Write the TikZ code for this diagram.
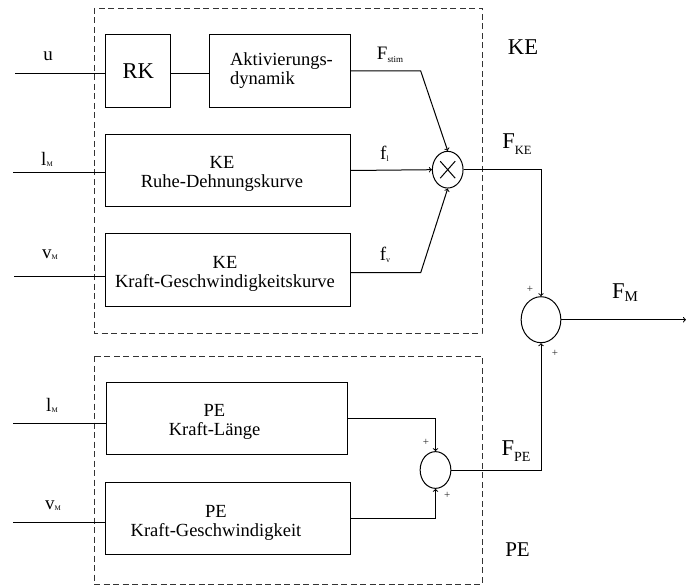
\documentclass[tikz,border=0pt]{standalone}
\usepackage{fontspec}
\setmainfont{Liberation Serif}
\usetikzlibrary{shapes.geometric}
\newcommand{\fsz}[1]{\fontsize{#1}{#1}\selectfont}
% symbol with a small lowered index: \sym{main size}{main}{drop}{index size}{index}
\newcommand{\sym}[5]{{\fsz{#1}#2}\raisebox{-#3pt}{\fsz{#4}#5}}

\begin{document}
\begin{tikzpicture}[x=1pt,y=-1pt,
  blk/.style={draw, line width=1pt, inner sep=0pt, rectangle},
  group/.style={draw=black!80, dash pattern=on 6pt off 3.5pt, line width=0.9pt},
  wire/.style={line width=1pt},
  arr/.style={wire, ->},
  junction/.style={draw, ellipse, line width=1pt, inner sep=0pt},
  sig/.style={anchor=base, inner sep=0pt},
  boxtext/.style={inner sep=0pt, font=\fsz{18.5}, execute at begin node=\setlength{\baselineskip}{19pt}},
  sign/.style={inner sep=0pt, font=\fsz{11}, text=black!85}
]
\useasboundingbox (0,0) rectangle (687,585);

% dashed group frames
\draw[group] (94,8) rectangle (482,333);
\draw[group] (94,356) rectangle (482,584);

% blocks
\node[blk, minimum width=64.7pt, minimum height=73pt, font=\fsz{22.6}] (rk) at (138.3,70.8) {RK};
\node[blk, minimum width=140.7pt, minimum height=73pt] (akt) at (280.3,70.7) {};
\node[blk, minimum width=244.7pt, minimum height=72.4pt] (ruhe) at (228.3,170.5) {};
\node[blk, minimum width=244.7pt, minimum height=72.7pt] (kgk) at (228.3,269.7) {};
\node[blk, minimum width=241.3pt, minimum height=72.3pt] (pekl) at (226.7,418.8) {};
\node[blk, minimum width=244.7pt, minimum height=72.3pt] (pekg) at (228.3,518.2) {};

% block captions
\node[boxtext, align=left] (aktT) at (281.5,70.5) {Aktivierungs-\\dynamik};
\node[boxtext, align=center] (ruheT) at (222,173.7) {KE\\Ruhe-Dehnungskurve};
\node[boxtext, align=center] (kgkT) at (225,273.7) {KE\\Kraft-Geschwindigkeitskurve};
\node[boxtext, align=center] (peklT) at (214.5,422) {PE\\Kraft-L\"ange};
\node[boxtext, align=center] (pekgT) at (216,523) {PE\\Kraft-Geschwindigkeit};

% junctions
\node[junction, minimum width=30.7pt, minimum height=36.7pt] (mul) at (447.7,169.7) {};
\node[junction, minimum width=39.7pt, minimum height=46pt] (sumM) at (541,319.7) {};
\node[junction, minimum width=30.7pt, minimum height=36.7pt] (sumP) at (435.5,470) {};
\draw[wire] ([shift={(-7.5pt,-8.5pt)}]mul.center) -- ([shift={(7.5pt,8.5pt)}]mul.center);
\draw[wire] ([shift={(-7.5pt,8.5pt)}]mul.center) -- ([shift={(7.5pt,-8.5pt)}]mul.center);

% inputs
\coordinate (inU) at (15,74);
\coordinate (inL1) at (13,173);
\coordinate (inV1) at (14,276.3);
\coordinate (inL2) at (13,423.3);
\coordinate (inV2) at (13,522.7);
\draw[wire] (inU) -- (inU -| rk.west);
\draw[wire] (rk.east |- inU) -- (akt.west |- inU);
\draw[wire] (inL1) -- (inL1 -| ruhe.west);
\draw[wire] (inV1) -- (inV1 -| kgk.west);
\draw[wire] (inL2) -- (inL2 -| pekl.west);
\draw[wire] (inV2) -- (inV2 -| pekg.west);

% contractile element signals
\coordinate (kS) at (420.7,71);
\coordinate (kVo) at (350.7,272.7);
\coordinate (kV) at (420.7,272.7);
\draw[arr] (akt.east |- kS) -- (kS) -- (mul.north);
\draw[arr] (ruhe.east) -- (mul.west);
\draw[arr] (kVo) -- (kV) -- (mul.south);
\draw[arr] (mul.east) -| (sumM.north);

% parallel element signals
\draw[arr] (pekl.east) -| (sumP.north);
\draw[arr] (pekg.east) -| (sumP.south);
\draw[arr] (sumP.east) -| (sumM.south);

% muscle force output
\coordinate (out) at (686,319.7);
\draw[arr] (sumM.east) -- (out);

% signal labels
\node[sig] (lu) at (48,61) {\fsz{19}u};
\node[sig] (ll1) at (47,166) {\sym{19}{l}{1}{7}{M}};
\node[sig] (lv1) at (50,258.3) {\sym{19}{v}{1}{7}{M}};
\node[sig] (ll2) at (52,411) {\sym{19}{l}{1}{7}{M}};
\node[sig] (lv2) at (53,509.3) {\sym{19}{v}{1}{7}{M}};
\node[sig] (lstim) at (390,60) {\sym{19}{F}{2.5}{9}{stim}};
\node[sig] (lfl) at (384.5,159.3) {\sym{19}{f}{2.5}{8}{l}};
\node[sig] (lfv) at (385,260) {\sym{19}{f}{2.5}{8}{v}};
\node[sig] (lFKE) at (517,148.3) {\sym{22.6}{F}{6.5}{12.6}{KE}};
\node[sig] (lFM) at (625,298.3) {\sym{22.6}{F}{3.3}{15}{M}};
\node[sig] (lFPE) at (516,455) {\sym{22.6}{F}{6}{14}{PE}};
\node[sig, font=\fsz{22.6}] (lKE) at (523,55) {KE};
\node[sig, font=\fsz{21}] (lPE) at (517.5,556.7) {PE};

% summation signs
\node[sign] (p1) at (530,289) {+};
\node[sign] (p2) at (555,353) {+};
\node[sign] (p3) at (426,442.7) {+};
\node[sign] (p4) at (447.3,495.7) {+};
\end{tikzpicture}
\end{document}
